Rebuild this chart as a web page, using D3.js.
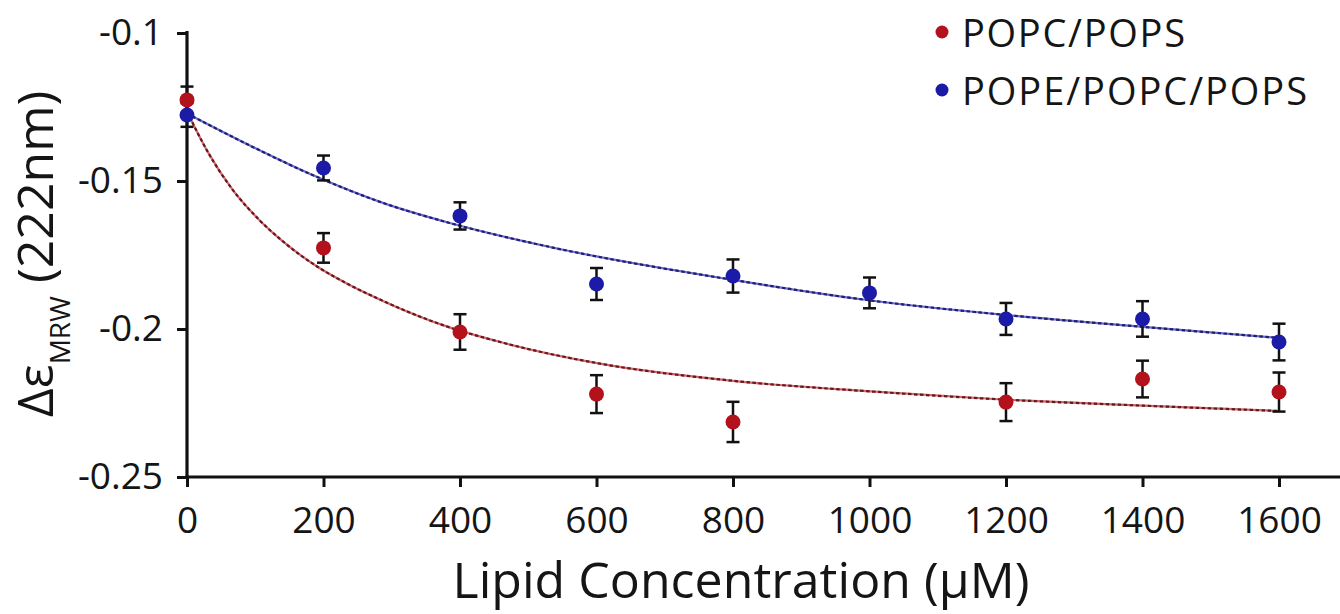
<!DOCTYPE html>
<html><head><meta charset="utf-8">
<script src="https://cdn.jsdelivr.net/npm/d3@7"></script>
<style>
body{margin:0;background:#fff}
svg{display:block}
text{font-family:"Open Sans",sans-serif;fill:#151515}
</style>
</head><body><svg id="c" width="1340" height="614"></svg>
<script>
// ---- data ----
const xTicks = [0, 200, 400, 600, 800, 1000, 1200, 1400, 1600];
const yTicks = [-0.25, -0.2, -0.15, -0.1];
const yTickLabels = ["-0.25", "-0.2", "-0.15", "-0.1"];
const seriesNames = ["POPC/POPS", "POPE/POPC/POPS"];

const popcX   = [0, 200, 400, 600, 800, 1200, 1400, 1600];
const popcY   = [-0.1226, -0.1726, -0.201, -0.222, -0.2314, -0.2247, -0.2169, -0.2213];
const popcErr = [0.0045, 0.005, 0.006, 0.0064, 0.0068, 0.0064, 0.0062, 0.0066];

const popeX   = [0, 200, 400, 600, 800, 1000, 1200, 1400, 1600];
const popeY   = [-0.1277, -0.1456, -0.1618, -0.1848, -0.1821, -0.1878, -0.1966, -0.1966, -0.2044];
const popeErr = [0.004, 0.0042, 0.0046, 0.0054, 0.0056, 0.0052, 0.0054, 0.006, 0.0062];

// fitted curves
const popcFitX = [0, 30, 67, 107, 141, 190, 239, 287, 375, 459, 605, 800, 996, 1201, 1401, 1600];
const popcFitY = [-0.1265, -0.1400, -0.1530, -0.1634, -0.1705, -0.1788, -0.1852, -0.1905, -0.1987, -0.2044, -0.2117, -0.2175, -0.2210, -0.2239, -0.2259, -0.2277];
const popeFitX = [0, 92, 190, 287, 385, 532, 800, 996, 1201, 1401, 1600];
const popeFitY = [-0.1272, -0.138, -0.1486, -0.1574, -0.1642, -0.1723, -0.1834, -0.1902, -0.1953, -0.1993, -0.203];

const colors = ["#b3121c", "#1b1ba8"];
const lineLight = ["#e2646a", "#6a6ae6"];
const lineDark = ["#5a1e22", "#22225e"];

// ---- scales ----
const svg = d3.select("#c");
const x = d3.scaleLinear().domain([0, 1600]).range([187, 1279]);
const y = d3.scaleLinear().domain([-0.25, -0.1]).range([477, 33]);

// ---- axes ----
const gx = svg.append("g").attr("transform", `translate(0,${y(-0.25)})`)
  .call(d3.axisBottom(x).tickValues(xTicks).tickSize(10).tickSizeOuter(0).tickFormat(d3.format("d")));
gx.select(".domain").attr("d", `M${x(0) - 1.5},0H${x(1720)}`).attr("stroke", "#111").attr("stroke-width", 3.2);
gx.selectAll(".tick line").attr("stroke", "#111").attr("stroke-width", 3);
gx.selectAll(".tick text").attr("y", 56).attr("dy", null).attr("font-size", 37)
  .style("font-family", '"Open Sans",sans-serif').attr("fill", "#151515");

const gy = svg.append("g").attr("transform", `translate(${x(0)},0)`)
  .call(d3.axisLeft(y).tickValues(yTicks).tickSize(10).tickPadding(14).tickSizeOuter(0)
    .tickFormat(d => yTickLabels[yTicks.indexOf(d)]));
gy.select(".domain").attr("d", `M0,${y(-0.25) + 1.5}V${y(-0.1) - 2}`).attr("stroke", "#111").attr("stroke-width", 3.2);
gy.selectAll(".tick line").attr("stroke", "#111").attr("stroke-width", 3);
gy.selectAll(".tick text").attr("font-size", 37)
  .style("font-family", '"Open Sans",sans-serif').attr("fill", "#151515");

// ---- fit curves ----
const line = d3.line().x(d => x(d[0])).y(d => y(d[1])).curve(d3.curveMonotoneX);
const fits = [d3.zip(popcFitX, popcFitY), d3.zip(popeFitX, popeFitY)];
fits.forEach((pts, i) => {
  svg.append("path").datum(pts).attr("d", line).attr("fill", "none")
    .attr("stroke", lineLight[i]).attr("stroke-width", 2.2);
  svg.append("path").datum(pts).attr("d", line).attr("fill", "none")
    .attr("stroke", lineDark[i]).attr("stroke-width", 2.2).attr("stroke-dasharray", "3.5 2.5");
});

// ---- error bars & points ----
const series = [
  d3.zip(popcX, popcY, popcErr),
  d3.zip(popeX, popeY, popeErr)
];
series.forEach((pts, i) => {
  const g = svg.append("g");
  const eb = g.selectAll(".eb").data(pts).join("g").attr("stroke", "#111").attr("stroke-width", 2.5);
  eb.append("line").attr("x1", d => x(d[0])).attr("x2", d => x(d[0]))
    .attr("y1", d => y(d[1] - d[2])).attr("y2", d => y(d[1] + d[2]));
  eb.append("line").attr("x1", d => x(d[0]) - 6.5).attr("x2", d => x(d[0]) + 6.5)
    .attr("y1", d => y(d[1] + d[2])).attr("y2", d => y(d[1] + d[2]));
  eb.append("line").attr("x1", d => x(d[0]) - 6.5).attr("x2", d => x(d[0]) + 6.5)
    .attr("y1", d => y(d[1] - d[2])).attr("y2", d => y(d[1] - d[2]));
});
series.forEach((pts, i) => {
  svg.append("g").selectAll("circle").data(pts).join("circle")
    .attr("cx", d => x(d[0])).attr("cy", d => y(d[1])).attr("r", 7.5).attr("fill", colors[i]);
});

// ---- legend ----
const legendLen = [223, 345];
seriesNames.forEach((name, i) => {
  const cy = 32 + i * 58;
  svg.append("circle").attr("cx", 942).attr("cy", cy).attr("r", 6.5).attr("fill", colors[i]);
  svg.append("text").attr("x", 962).attr("y", cy + 15).attr("font-size", 38)
    .attr("textLength", legendLen[i]).attr("lengthAdjust", "spacing").text(name);
});

// ---- axis titles ----
svg.append("text").attr("x", 741).attr("y", 598).attr("text-anchor", "middle")
  .attr("font-size", 50).attr("textLength", 577).attr("lengthAdjust", "spacing")
  .text("Lipid Concentration (\u00B5M)");

const yt = svg.append("text").attr("transform", "translate(53,254) rotate(-90)")
  .attr("text-anchor", "middle").attr("font-size", 50);
yt.append("tspan").text("\u0394\u03B5");
yt.append("tspan").attr("font-size", 28).attr("dy", 17).text("MRW");
yt.append("tspan").attr("dy", -17).text(" (222nm)");
</script>
</body></html>
